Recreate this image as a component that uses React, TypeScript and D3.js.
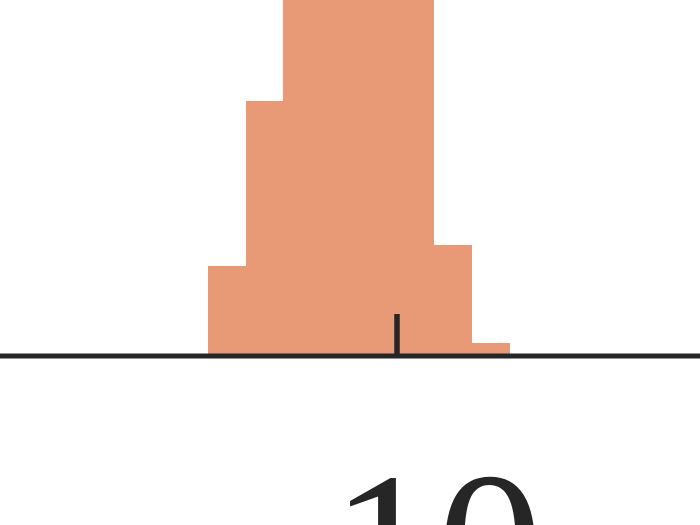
import { useEffect, useRef } from 'react';
import * as d3 from 'd3';

// histogram bins (left edges) and heights (density)
const binEdges = [5, 6, 7, 8, 9, 10, 11, 12, 13];
const binValues = [0.09, 0.255, 0.42, 0.47, 0.45, 0.4, 0.111, 0.013];
const tickValues = [10];
const tickLabels = ['10'];

const W = 700;
const H = 525;

export default function App() {
  const svgRef = useRef<SVGSVGElement>(null);

  useEffect(() => {
    if (!svgRef.current) return;
    const svg = d3.select(svgRef.current);
    svg.selectAll('*').remove();

    const baseline = 356;
    const unit = 37.75;
    const x = d3.scaleLinear()
      .domain([10 - 396.5 / unit, 10 + (W - 396.5) / unit])
      .range([0, W]);
    const y = d3.scaleLinear().domain([0, 0.356]).range([baseline, 0]);

    const bins = binValues.map((v, i) => ({ x0: binEdges[i], x1: binEdges[i + 1], v }));

    // bars
    svg.append('g')
      .attr('shape-rendering', 'crispEdges')
      .selectAll('rect')
      .data(bins)
      .enter().append('rect')
      .attr('x', d => Math.round(x(d.x0)))
      .attr('width', d => Math.round(x(d.x1)) - Math.round(x(d.x0)))
      .attr('y', d => y(d.v))
      .attr('height', d => baseline - y(d.v))
      .attr('fill', '#e89975');

    // x axis
    const axis = svg.append('g')
      .attr('transform', `translate(0,${baseline})`)
      .attr('font-family', 'Liberation Serif, Times New Roman, DejaVu Serif, serif');
    axis.call(
      d3.axisBottom(x)
        .tickValues(tickValues)
        .tickSize(-42)
        .tickFormat((_, i) => tickLabels[i])
    );
    axis.attr('font-family', 'Liberation Serif, Times New Roman, DejaVu Serif, serif');
    axis.select('.domain')
      .attr('d', `M0,0H${W}`)
      .attr('stroke', '#262626')
      .attr('stroke-width', 5);
    axis.selectAll('.tick line')
      .attr('stroke', '#262626')
      .attr('stroke-width', 5.5);
    axis.selectAll('.tick text')
      .attr('fill', '#262626')
      .attr('y', 262)
      .attr('dy', 0)
      .attr('dx', 40)
      .attr('font-family', 'Liberation Serif, Times New Roman, DejaVu Serif, serif')
      .attr('font-size', 212);
  }, []);

  return (
    <svg
      ref={svgRef}
      width={W}
      height={H}
      style={{ position: 'absolute', left: 0, top: 0, background: '#fff' }}
    />
  );
}
